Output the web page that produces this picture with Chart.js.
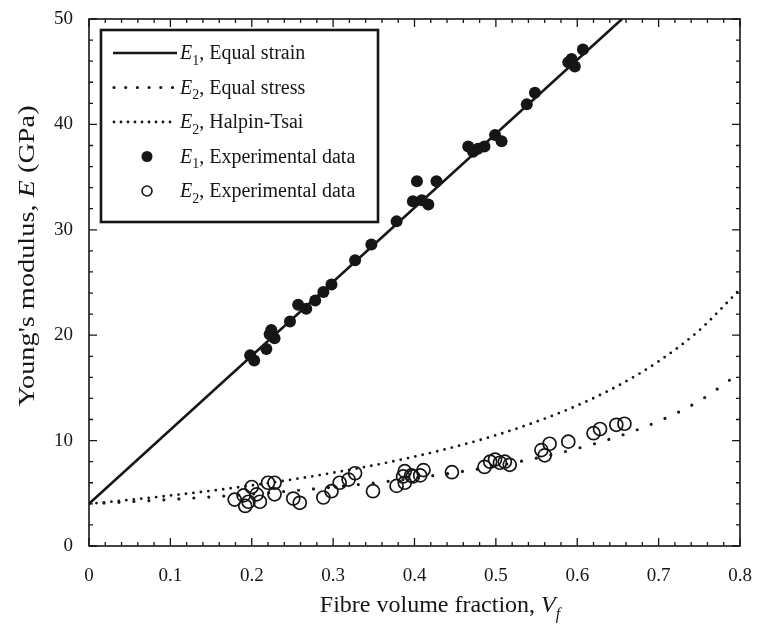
<!DOCTYPE html>
<html>
<head>
<meta charset="utf-8">
<script src="https://cdn.jsdelivr.net/npm/chart.js@4.4.1/dist/chart.umd.min.js"></script>
<style>
  html, body { margin: 0; padding: 0; background: #fff; }
  #wrap { width: 758px; height: 626px; }
</style>
</head>
<body>
<div id="wrap"><canvas id="modulusChart" width="758" height="626"></canvas></div>
<script>
// tick values
const xTicks = [0, 0.1, 0.2, 0.3, 0.4, 0.5, 0.6, 0.7, 0.8];
const yTicks = [0, 10, 20, 30, 40, 50];

// theory curves
const curveVf = [0, 0.05, 0.1, 0.15, 0.2, 0.25, 0.3, 0.35, 0.4, 0.45, 0.5, 0.55, 0.6, 0.65, 0.7, 0.75, 0.8];
const equalStress = [4.0, 4.2, 4.42, 4.66, 4.93, 5.24, 5.59, 5.98, 6.44, 6.97, 7.59, 8.34, 9.25, 10.39, 11.84, 13.77, 16.44];
const halpinTsai = [4.0, 4.38, 4.79, 5.24, 5.75, 6.31, 6.95, 7.66, 8.48, 9.42, 10.51, 11.8, 13.33, 15.2, 17.52, 20.47, 24.36];
const equalStrainVf = [0, 0.655];
const equalStrain = [4.0, 50];

// experimental data
const e1Vf = [0.198, 0.203, 0.218, 0.222, 0.224, 0.228, 0.247, 0.257, 0.267, 0.278, 0.288, 0.298, 0.327, 0.347, 0.378, 0.398, 0.403, 0.409, 0.417, 0.427, 0.466, 0.472, 0.478, 0.486, 0.499, 0.507, 0.538, 0.548, 0.589, 0.593, 0.597, 0.607];
const e1E = [18.1, 17.6, 18.7, 20.1, 20.5, 19.7, 21.3, 22.9, 22.5, 23.3, 24.1, 24.8, 27.1, 28.6, 30.8, 32.7, 34.6, 32.8, 32.4, 34.6, 37.9, 37.4, 37.7, 37.9, 39.0, 38.4, 41.9, 43.0, 45.9, 46.2, 45.5, 47.1];
const e2Vf = [0.179, 0.190, 0.200, 0.192, 0.196, 0.206, 0.210, 0.220, 0.228, 0.228, 0.251, 0.259, 0.288, 0.298, 0.308, 0.319, 0.327, 0.349, 0.378, 0.386, 0.388, 0.388, 0.396, 0.398, 0.407, 0.411, 0.446, 0.486, 0.493, 0.499, 0.505, 0.511, 0.517, 0.556, 0.560, 0.566, 0.589, 0.620, 0.628, 0.648, 0.658];
const e2E = [4.4, 4.8, 5.6, 3.8, 4.2, 4.9, 4.2, 6.0, 6.0, 4.9, 4.5, 4.1, 4.6, 5.2, 6.0, 6.3, 6.9, 5.2, 5.7, 6.6, 6.0, 7.1, 6.7, 6.6, 6.7, 7.2, 7.0, 7.5, 8.0, 8.2, 7.9, 8.0, 7.7, 9.1, 8.6, 9.7, 9.9, 10.7, 11.1, 11.5, 11.6];

const INK = "#161616";
const SERIF = '"Liberation Serif", "Times New Roman", serif';

function pairs(xs, ys) {
  return xs.map((x, i) => ({ x: x, y: ys[i] }));
}

// draws a run of text pieces, some italic, some subscript
function drawRich(ctx, parts, x, y, size) {
  parts.forEach((p) => {
    const fs = p.sub ? Math.round(size * 0.68) : size;
    ctx.font = (p.it ? "italic " : "") + fs + "px " + SERIF;
    ctx.fillText(p.t, x, y + (p.sub ? size * 0.28 : 0));
    x += ctx.measureText(p.t).width;
  });
  return x;
}

function richWidth(ctx, parts, size) {
  let w = 0;
  parts.forEach((p) => {
    const fs = p.sub ? Math.round(size * 0.68) : size;
    ctx.font = (p.it ? "italic " : "") + fs + "px " + SERIF;
    w += ctx.measureText(p.t).width;
  });
  return w;
}

const datasets = [
  {
    label: "E2, Halpin-Tsai",
    data: pairs(curveVf, halpinTsai),
    showLine: true,
    pointRadius: 0,
    borderColor: INK,
    borderWidth: 2.8,
    borderDash: [0, 7.5],
    borderCapStyle: "round",
    cubicInterpolationMode: "monotone",
  },
  {
    label: "E2, Equal stress",
    data: pairs(curveVf, equalStress),
    showLine: true,
    pointRadius: 0,
    borderColor: INK,
    borderWidth: 3.2,
    borderDash: [0, 15],
    borderCapStyle: "round",
    cubicInterpolationMode: "monotone",
  },
  {
    label: "E1, Equal strain",
    data: pairs(equalStrainVf, equalStrain),
    showLine: true,
    pointRadius: 0,
    borderColor: INK,
    borderWidth: 2.6,
  },
  {
    label: "E2, Experimental data",
    data: pairs(e2Vf, e2E),
    pointRadius: 6.5,
    pointBorderWidth: 1.7,
    pointBorderColor: INK,
    pointBackgroundColor: "rgba(0,0,0,0)",
  },
  {
    label: "E1, Experimental data",
    data: pairs(e1Vf, e1E),
    pointRadius: 6,
    pointBorderWidth: 0,
    pointBackgroundColor: INK,
  },
];

// frame and inward tick marks on all four sides
const framePlugin = {
  id: "frame",
  afterDraw(chart) {
    const ctx = chart.ctx;
    const a = chart.chartArea;
    const xs = chart.scales.x;
    const ys = chart.scales.y;
    ctx.save();
    ctx.strokeStyle = INK;
    ctx.lineWidth = 1.6;
    ctx.strokeRect(a.left, a.top, a.right - a.left, a.bottom - a.top);
    ctx.lineWidth = 1.3;
    ctx.beginPath();
    for (let i = 0; i <= 40; i++) {
      const v = i * 0.02;
      const len = i % 5 === 0 ? 8 : 4;
      const px = xs.getPixelForValue(v);
      ctx.moveTo(px, a.bottom); ctx.lineTo(px, a.bottom - len);
      ctx.moveTo(px, a.top); ctx.lineTo(px, a.top + len);
    }
    for (let i = 0; i <= 25; i++) {
      const v = i * 2;
      const len = i % 5 === 0 ? 8 : 4;
      const py = ys.getPixelForValue(v);
      ctx.moveTo(a.left, py); ctx.lineTo(a.left + len, py);
      ctx.moveTo(a.right, py); ctx.lineTo(a.right - len, py);
    }
    ctx.stroke();

    // axis titles
    ctx.fillStyle = INK;
    ctx.textBaseline = "alphabetic";
    const xt = [{ t: "Fibre volume fraction, " }, { t: "V", it: true }, { t: "f", it: true, sub: true }];
    const xw = richWidth(ctx, xt, 24);
    drawRich(ctx, xt, 440 - xw / 2, 612, 24);

    const yt = [{ t: "Young's modulus, " }, { t: "E", it: true }, { t: " (GPa)" }];
    const yw = richWidth(ctx, yt, 24);
    ctx.translate(34, 256);
    ctx.rotate(-Math.PI / 2);
    ctx.scale(1.18, 1);
    drawRich(ctx, yt, -yw / 2, 0, 24);
    ctx.restore();
  },
};

// boxed legend with italic E and subscripts
const legendPlugin = {
  id: "boxLegend",
  afterDraw(chart) {
    const ctx = chart.ctx;
    const a = chart.chartArea;
    const bx = a.left + 12;
    const by = a.top + 11;
    const bw = 277;
    const bh = 192;
    ctx.save();
    ctx.fillStyle = "#fff";
    ctx.fillRect(bx, by, bw, bh);
    ctx.strokeStyle = INK;
    ctx.lineWidth = 2.6;
    ctx.strokeRect(bx, by, bw, bh);

    const rows = [
      { kind: "solid", sub: "1", text: ", Equal strain" },
      { kind: "stress", sub: "2", text: ", Equal stress" },
      { kind: "halpin", sub: "2", text: ", Halpin-Tsai" },
      { kind: "filled", sub: "1", text: ", Experimental data" },
      { kind: "open", sub: "2", text: ", Experimental data" },
    ];
    const x0 = bx + 12;
    const x1 = bx + 76;
    const mx = bx + 46;
    rows.forEach((r, i) => {
      const cy = by + 23 + i * 34.5;
      ctx.strokeStyle = INK;
      ctx.fillStyle = INK;
      ctx.setLineDash([]);
      ctx.lineCap = "butt";
      if (r.kind === "solid") {
        ctx.lineWidth = 2.6;
        ctx.beginPath(); ctx.moveTo(x0, cy); ctx.lineTo(x1, cy); ctx.stroke();
      } else if (r.kind === "stress" || r.kind === "halpin") {
        ctx.lineWidth = r.kind === "stress" ? 3.2 : 2.8;
        ctx.lineCap = "round";
        ctx.setLineDash(r.kind === "stress" ? [0, 11.7] : [0, 7]);
        ctx.beginPath(); ctx.moveTo(x0 + 1, cy); ctx.lineTo(x1, cy); ctx.stroke();
        ctx.setLineDash([]);
      } else if (r.kind === "filled") {
        ctx.beginPath(); ctx.arc(mx, cy, 5.5, 0, Math.PI * 2); ctx.fill();
      } else {
        ctx.lineWidth = 1.6;
        ctx.beginPath(); ctx.arc(mx, cy, 5, 0, Math.PI * 2); ctx.stroke();
      }
      ctx.textBaseline = "alphabetic";
      drawRich(ctx, [{ t: "E", it: true }, { t: r.sub, sub: true }, { t: r.text }], bx + 79, cy + 6, 20);
    });
    ctx.restore();
  },
};

const ctx = document.getElementById("modulusChart").getContext("2d");
const modulusChart = new Chart(ctx, {
  type: "scatter",
  data: { datasets: datasets },
  options: {
    responsive: false,
    devicePixelRatio: 1,
    animation: false,
    layout: { padding: { top: 19, right: 18, left: 0, bottom: 0 } },
    plugins: {
      legend: { display: false },
      tooltip: { enabled: false },
    },
    scales: {
      x: {
        type: "linear",
        min: 0,
        max: 0.8,
        grid: { display: false, drawTicks: false },
        border: { display: false },
        afterBuildTicks: (scale) => {
          scale.ticks = xTicks.map((v) => ({ value: v }));
        },
        afterFit: (scale) => {
          scale.height = 80;
          scale.paddingLeft = 0;
          scale.paddingRight = 0;
        },
        ticks: {
          color: INK,
          padding: 19,
          maxRotation: 0,
          autoSkip: false,
          font: { family: SERIF, size: 19 },
          callback: (v) => (v === 0 ? "0" : v.toFixed(1)),
        },
      },
      y: {
        type: "linear",
        min: 0,
        max: 50,
        grid: { display: false, drawTicks: false },
        border: { display: false },
        afterBuildTicks: (scale) => {
          scale.ticks = yTicks.map((v) => ({ value: v }));
        },
        afterFit: (scale) => {
          scale.width = 89;
          scale.paddingTop = 0;
          scale.paddingBottom = 0;
        },
        ticks: {
          color: INK,
          padding: 16,
          font: { family: SERIF, size: 19 },
        },
      },
    },
  },
  plugins: [framePlugin, legendPlugin],
});
</script>
</body>
</html>
